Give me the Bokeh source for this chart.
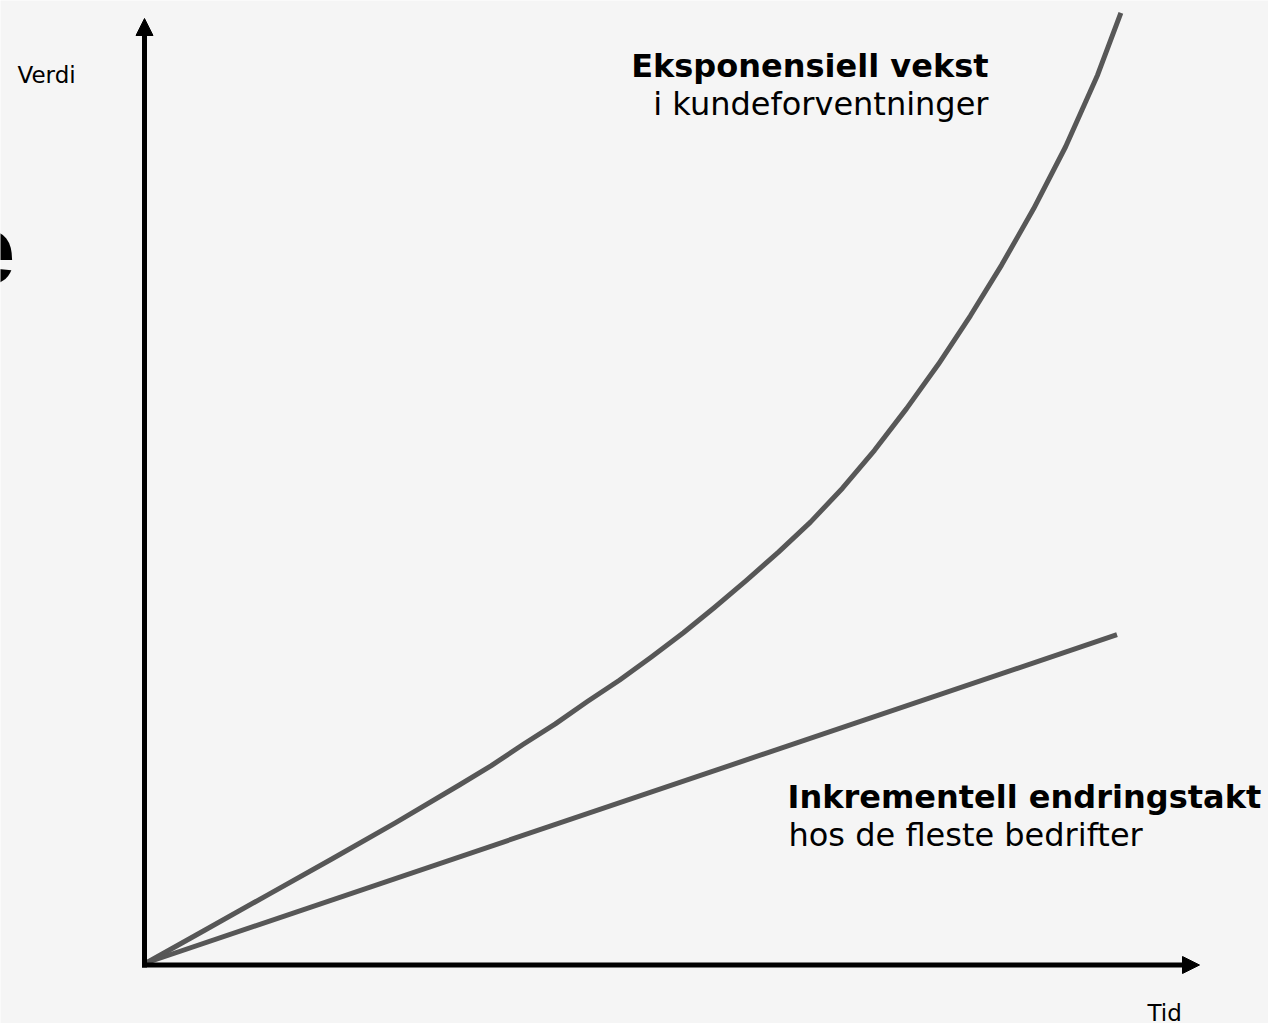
from bokeh.plotting import figure
from bokeh.models import Range1d, Arrow, NormalHead, Label
from bokeh.embed import file_html
from bokeh.resources import INLINE

# ---- data (units: time vs value) ----
exp_time = [0.0, 0.59, 1.25, 1.91, 2.56, 3.22, 3.55, 3.88, 4.21, 4.54, 4.87, 5.20, 5.53,
            5.85, 6.18, 6.51, 6.84, 7.17, 7.50, 7.83, 8.16, 8.49, 8.81, 9.14, 9.47,
            9.80, 10.04]
exp_value = [0.0, 0.33, 0.70, 1.07, 1.44, 1.83, 2.03, 2.25, 2.46, 2.69, 2.91, 3.15, 3.40,
             3.66, 3.94, 4.23, 4.54, 4.89, 5.28, 5.71, 6.17, 6.67, 7.19, 7.77, 8.41,
             9.15, 9.79]
lin_time = [0.0, 10.0]
lin_value = [0.0, 3.38]

y_label = "Verdi"
x_label = "Tid"
exp_title = "Eksponensiell vekst"
exp_sub = "i kundeforventninger"
lin_title = "Inkrementell endringstakt"
lin_sub = "hos de fleste bedrifter"

# ---- layout ----
W, H = 1268, 1023
PX = 97.0              # pixels per data unit
OX, OY = 146.5, 962.0  # origin in canvas pixels

def dx(px):
    return (px - OX) / PX

def dy(py):
    return (OY - py) / PX

p = figure(width=W, height=H, output_backend="svg", toolbar_location=None,
           x_range=Range1d(dx(0), dx(W)), y_range=Range1d(dy(H), dy(0)),
           min_border=0, background_fill_color="#f5f5f5", border_fill_color="#f5f5f5",
           outline_line_color=None)
p.axis.visible = False
p.grid.visible = False
p.styles = {"position": "absolute", "left": "0px", "top": "0px"}

# axes as arrows
p.add_layout(Arrow(end=NormalHead(size=17, fill_color="black", line_color="black", line_width=1),
                   x_start=dx(144), y_start=dy(967), x_end=dx(144), y_end=dy(18),
                   line_width=5, line_color="black"))
p.add_layout(Arrow(end=NormalHead(size=17, fill_color="black", line_color="black", line_width=1),
                   x_start=dx(141.5), y_start=dy(964.5), x_end=dx(1199), y_end=dy(964.5),
                   line_width=5, line_color="black"))

# curves
p.line(exp_time, exp_value, line_width=5, line_color="#575757", line_join="round")
p.line(lin_time, lin_value, line_width=5, line_color="#575757")

FONT = "DejaVu Sans"
def lab(x_px, base_px, text, size, bold=False, align="left", font=FONT):
    # Label renders ~0.31em below the requested alphabetic baseline; compensate
    y_px = base_px - 0.31 * size
    p.add_layout(Label(x=dx(x_px), y=dy(y_px), text=text, text_font=font,
                       text_font_size=f"{size}px",
                       text_font_style="bold" if bold else "normal",
                       text_align=align, text_baseline="alphabetic", text_color="black"))

lab(988, 75, exp_title, 32, bold=True, align="right")
lab(988, 113, exp_sub, 32, align="right")
lab(787, 806, lin_title, 32, bold=True)
lab(788, 844, lin_sub, 32)
lab(17, 82, y_label, 23)
lab(1147, 1020, x_label, 23)
# clipped large letter at the left edge
lab(15, 279, "e", 96, bold=True, align="right", font="Liberation Sans")

open("out.html", "w").write(file_html(p, INLINE))
